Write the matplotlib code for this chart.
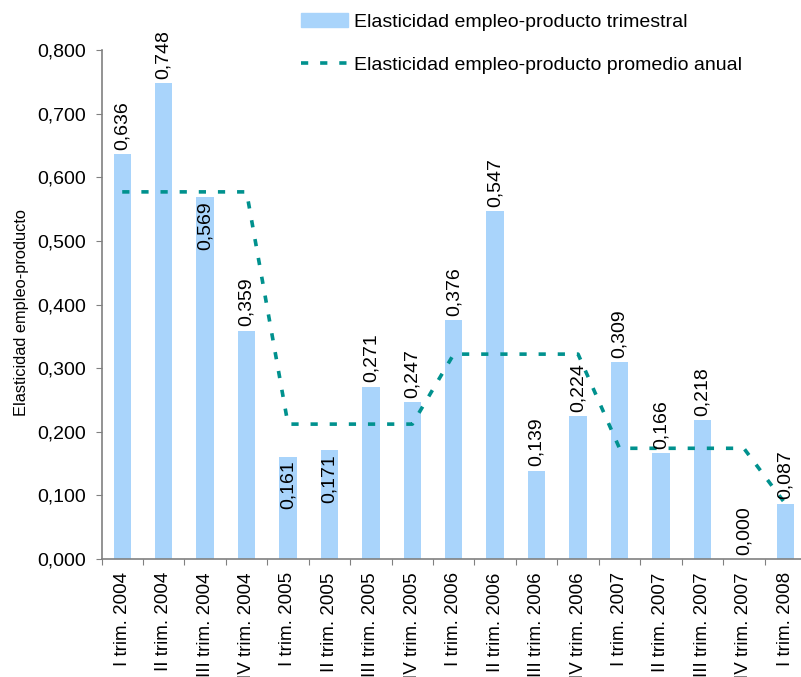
import matplotlib
matplotlib.use("Agg")
import matplotlib.pyplot as plt
from matplotlib.ticker import FuncFormatter, FixedLocator
from matplotlib.patches import Patch
from matplotlib.lines import Line2D

plt.rcParams['font.family'] = ['Liberation Sans', 'DejaVu Sans']

quarters = ["I trim. 2004", "II trim. 2004", "III trim. 2004", "IV trim. 2004",
            "I trim. 2005", "II trim. 2005", "III trim. 2005", "IV trim. 2005",
            "I trim. 2006", "II trim. 2006", "III trim. 2006", "IV trim. 2006",
            "I trim. 2007", "II trim. 2007", "III trim. 2007", "IV trim. 2007",
            "I trim. 2008"]
trimestral = [0.636, 0.748, 0.569, 0.359, 0.161, 0.171, 0.271, 0.247,
              0.376, 0.547, 0.139, 0.224, 0.309, 0.166, 0.218, 0.000, 0.087]
promedio_anual = [0.577, 0.577, 0.577, 0.577, 0.212, 0.212, 0.212, 0.212,
                  0.322, 0.322, 0.322, 0.322, 0.174, 0.174, 0.174, 0.174, 0.087]
# labels that sit inside the top of the bar instead of above it
inside = [False, False, True, False, True, True, False, False,
          False, False, False, False, False, False, False, False, False]

bar_color = "#A9D4FB"
line_color = "#00918E"
axis_color = "#808080"
fs = 14

fig = plt.figure(figsize=(8.01, 6.77), dpi=100)
# the plot area runs a little past the right edge of the picture
ax = fig.add_axes([101.5 / 801, 1 - 559 / 677, 704.5 / 801, 509 / 677])

x = list(range(len(quarters)))
ax.bar(x, trimestral, width=0.42, color=bar_color, zorder=2)
ax.plot(x, promedio_anual, color=line_color, lw=2.6, linestyle=(0, (2, 3.3)),
        dash_capstyle='butt', zorder=3)

for xi, v, ins in zip(x, trimestral, inside):
    txt = f"{v:.3f}".replace('.', ',')
    if ins:
        ax.annotate(txt, (xi, v), xytext=(0, -3), textcoords='offset points',
                    rotation=90, ha='center', va='top', fontsize=fs, zorder=4)
    else:
        ax.annotate(txt, (xi, v), xytext=(0, 3), textcoords='offset points',
                    rotation=90, ha='center', va='bottom', fontsize=fs, zorder=4)

ax.set_xlim(-0.5, len(quarters) - 0.5)
ax.set_ylim(0, 0.8)
ax.set_yticks([i / 10 for i in range(9)])
ax.yaxis.set_major_formatter(FuncFormatter(lambda v, p: f"{v:.3f}".replace('.', ',')))
ax.tick_params(axis='y', labelsize=fs, direction='out', length=4.3, color=axis_color, pad=7)

ax.xaxis.set_major_locator(FixedLocator([i - 0.5 for i in range(len(quarters) + 1)]))
ax.xaxis.set_major_formatter(FuncFormatter(lambda v, p: ""))
ax.xaxis.set_minor_locator(FixedLocator(x))
ax.set_xticklabels(quarters, minor=True, rotation=90, fontsize=13.5)
ax.tick_params(axis='x', which='major', direction='out', length=4, color=axis_color)
ax.tick_params(axis='x', which='minor', length=0, pad=9.5)

for s in ['top', 'right']:
    ax.spines[s].set_visible(False)
for s in ['left', 'bottom']:
    ax.spines[s].set_color(axis_color)
    ax.spines[s].set_linewidth(1.2)

ax.set_ylabel("Elasticidad empleo-producto", fontsize=11.8)
ax.yaxis.set_label_coords(-0.103, 0.485)

handles = [Patch(color=bar_color),
           Line2D([], [], color=line_color, lw=2.6, linestyle=(0, (2, 3.3)))]
fig.legend(handles, ["Elasticidad empleo-producto trimestral",
                     "Elasticidad empleo-producto promedio anual"],
           loc='upper left', bbox_to_anchor=(283 / 801, 1 + 5 / 677), frameon=False,
           fontsize=fs, handlelength=2.45, handleheight=0.8, labelspacing=1.28,
           handletextpad=0.3)

fig.savefig("out.png", dpi=100)
